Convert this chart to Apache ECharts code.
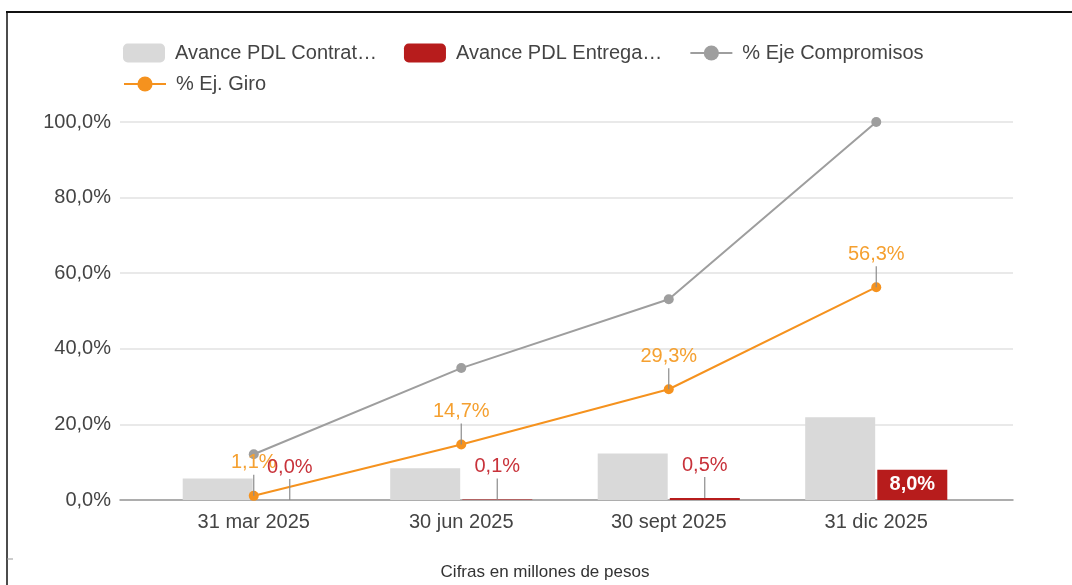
<!DOCTYPE html>
<html>
<head>
<meta charset="utf-8">
<script src="https://cdn.jsdelivr.net/npm/echarts@6/dist/echarts.min.js"></script>
<style>
  html, body { margin: 0; padding: 0; background: #fff; }
  #chart { width: 1072px; height: 585px; }
</style>
</head>
<body>
<div id="chart"></div>
<script>
// datos
const categories = ["31 mar 2025", "30 jun 2025", "30 sept 2025", "31 dic 2025"];
const seriesNames = ["Avance PDL Contrat…", "Avance PDL Entrega…", "% Eje Compromisos", "% Ej. Giro"];
const contratado = [5.7, 8.4, 12.3, 21.9];
const entregado = [0.0, 0.1, 0.5, 8.0];
const ejeCompromisos = [12.1, 34.9, 53.1, 100.0];
const ejGiro = [1.1, 14.7, 29.3, 56.3];
const yTicks = [0, 20, 40, 60, 80, 100];

const FONT = 'Arial, "Liberation Sans", sans-serif';
const fmt = (v) => Number(v).toFixed(1).replace(".", ",") + "%";

// anotación estilo Google: palito gris + texto encima
function annot(offsetX, color, skipFrom) {
  return function (params, api) {
    const v = api.value(1);
    if (v >= skipFrom) return null;
    const p = api.coord([api.value(0), v]);
    const x = p[0] + offsetX;
    const y = p[1];
    return {
      type: "group",
      children: [
        { type: "line", shape: { x1: x, y1: y, x2: x, y2: y - 21 }, style: { stroke: "#8c8c8c", lineWidth: 1.2 } },
        {
          type: "text",
          x: x,
          y: y - 33,
          style: { text: fmt(v), fill: color, font: "20px " + FONT, align: "center", verticalAlign: "middle" },
        },
      ],
    };
  };
}

const chart = echarts.init(document.getElementById("chart"));

const legendText = { fontSize: 20, color: "#444", padding: [0, 0, 0, 5] };

const option = {
  animation: false,
  textStyle: { fontFamily: FONT },
  legend: [
    {
      data: seriesNames.slice(0, 3),
      left: 118,
      top: 38,
      itemWidth: 42,
      itemHeight: 19,
      itemGap: 27,
      textStyle: legendText,
    },
    {
      data: seriesNames.slice(3),
      left: 118,
      top: 69,
      itemWidth: 42,
      itemHeight: 19,
      textStyle: legendText,
    },
  ],
  grid: [
    { left: 120, right: 59, top: 122, bottom: 85 },
    { left: 150, right: 92, top: 122, bottom: 85 },
  ],
  xAxis: [
    {
      gridIndex: 0,
      type: "value",
      min: 0,
      max: 1,
      axisLine: { show: true, lineStyle: { color: "#999", width: 1.5 } },
      axisTick: { show: false },
      axisLabel: { show: false },
      splitLine: { show: false },
    },
    {
      gridIndex: 1,
      type: "category",
      data: categories,
      axisLine: { show: false },
      axisTick: { show: false },
      axisLabel: { fontSize: 20, color: "#444", margin: 12 },
    },
  ],
  yAxis: [
    {
      gridIndex: 0,
      type: "value",
      min: yTicks[0],
      max: yTicks[yTicks.length - 1],
      interval: yTicks[1] - yTicks[0],
      axisLine: { show: false },
      axisTick: { show: false },
      axisLabel: { fontSize: 20, color: "#444", margin: 9, formatter: fmt },
      splitLine: { lineStyle: { color: "#e2e2e2", width: 1.5 } },
    },
    { gridIndex: 1, type: "value", min: 0, max: 100, show: false },
  ],
  series: [
    {
      name: seriesNames[0],
      type: "bar",
      xAxisIndex: 1,
      yAxisIndex: 1,
      data: contratado,
      barWidth: 70,
      barGap: "3%",
      itemStyle: { color: "#d9d9d9" },
    },
    {
      name: seriesNames[1],
      type: "bar",
      xAxisIndex: 1,
      yAxisIndex: 1,
      data: entregado,
      barWidth: 70,
      itemStyle: { color: "#b71c1c" },
      label: {
        show: true,
        position: "inside",
        fontSize: 20,
        fontWeight: "bold",
        color: "#fff",
        formatter: (p) => (p.value >= 5 ? fmt(p.value) : ""),
      },
    },
    {
      name: seriesNames[2],
      type: "line",
      xAxisIndex: 1,
      yAxisIndex: 1,
      data: ejeCompromisos,
      symbol: "circle",
      symbolSize: 10,
      itemStyle: { color: "#9e9e9e" },
      lineStyle: { color: "#9e9e9e", width: 2 },
    },
    {
      name: seriesNames[3],
      type: "line",
      xAxisIndex: 1,
      yAxisIndex: 1,
      data: ejGiro,
      symbol: "circle",
      symbolSize: 10,
      itemStyle: { color: "#f5921e" },
      lineStyle: { color: "#f5921e", width: 2 },
    },
    {
      type: "custom",
      xAxisIndex: 1,
      yAxisIndex: 1,
      data: ejGiro.map((v, i) => [i, v]),
      renderItem: annot(0, "#f5a030", Infinity),
      clip: false,
      z: 5,
    },
    {
      type: "custom",
      xAxisIndex: 1,
      yAxisIndex: 1,
      data: entregado.map((v, i) => [i, v]),
      renderItem: annot(36, "#c8323a", 5),
      clip: false,
      z: 6,
    },
  ],
  graphic: [
    { type: "line", shape: { x1: 6, y1: 12, x2: 1072, y2: 12 }, style: { stroke: "#111", lineWidth: 2 } },
    { type: "line", shape: { x1: 7, y1: 12, x2: 7, y2: 585 }, style: { stroke: "#111", lineWidth: 1.5 } },
    { type: "line", shape: { x1: 7, y1: 559, x2: 13, y2: 559 }, style: { stroke: "#999", lineWidth: 1 } },
    {
      type: "text",
      x: 545,
      y: 572,
      style: {
        text: "Cifras en millones de pesos",
        fill: "#333",
        font: "17px " + FONT,
        align: "center",
        verticalAlign: "middle",
      },
    },
  ],
};

chart.setOption(option);
</script>
</body>
</html>
